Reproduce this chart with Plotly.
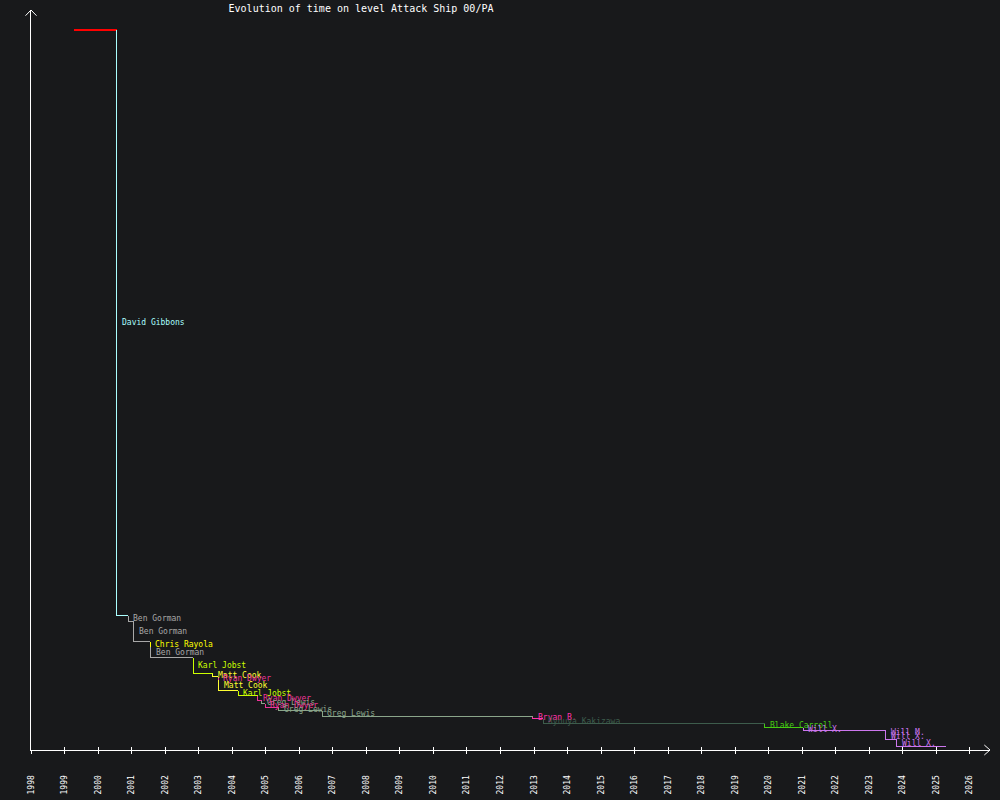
import plotly.graph_objects as go

# ---- data ----
record_dates = [
    "1999-04-16", "2000-07-25", "2000-11-24", "2001-01-22", "2001-07-23",
    "2001-07-27", "2002-11-05", "2003-06-01", "2003-08-05", "2003-08-08",
    "2004-03-10", "2004-10-05", "2004-11-20", "2004-12-26", "2005-05-20",
    "2006-09-10", "2012-12-19", "2013-04-14", "2019-11-22", "2021-01-13",
    "2023-06-29", "2023-07-02", "2023-10-27",
]
record_times = [
    720, 134, 128, 108, 103,
    92, 76, 73, 70, 59,
    54, 49, 46, 42, 39,
    33, 31, 26, 22, 19,
    16, 10, 3,
]
record_players = [
    "", "David Gibbons", "Ben Gorman", "Ben Gorman", "Chris Rayola",
    "Ben Gorman", "Karl Jobst", "Matt Cook", "Ryan Dwyer", "Matt Cook",
    "Karl Jobst", "Ryan Dwyer", "Greg Lewis", "Ryan Dwyer", "Greg Lewis",
    "Greg Lewis", "Bryan B.", "Ryouya Kakizawa", "Blake Carroll", "Will X.",
    "Will M.", "Will X.", "Will X.",
]
end_date = "2025-04-13"
year_ticks_start = "1998-01-01"
axis_end = "2026-08-08"
title_text = "Evolution of time on level Attack Ship 00/PA"

player_colors = {
    "": "#ff0000",
    "David Gibbons": "#aaffff",
    "Ben Gorman": "#a8a8a8",
    "Chris Rayola": "#ffff00",
    "Karl Jobst": "#ccff00",
    "Matt Cook": "#ffff33",
    "Ryan Dwyer": "#ee3399",
    "Greg Lewis": "#8aa58a",
    "Bryan B.": "#ff33aa",
    "Ryouya Kakizawa": "#3d5c4c",
    "Blake Carroll": "#44cc11",
    "Will X.": "#cc77ee",
    "Will M.": "#cc77ee",
}

BG = "#18191b"
FONT = "DejaVu Sans Mono"

fig = go.Figure()
annotations = []
n = len(record_dates)
for i in range(n):
    nxt = record_dates[i + 1] if i + 1 < n else end_date
    col = player_colors[record_players[i]]
    if i == 0:
        xs = [record_dates[i], nxt]
        ys = [record_times[i], record_times[i]]
        lw = 2
    else:
        xs = [record_dates[i], record_dates[i], nxt]
        ys = [record_times[i - 1], record_times[i], record_times[i]]
        lw = 1
        annotations.append(dict(
            x=record_dates[i], y=(record_times[i - 1] + record_times[i]) / 2,
            xref="x", yref="y", text=record_players[i], showarrow=False,
            xanchor="left", yanchor="middle", xshift=3,
            font=dict(family=FONT, size=8, color=col),
        ))
    fig.add_trace(go.Scatter(x=xs, y=ys, mode="lines",
                             line=dict(color=col, width=lw, shape="linear"),
                             hoverinfo="skip", showlegend=False))

# invisible helper trace so the overlay axis (inner tick halves) is drawn
fig.add_trace(go.Scatter(x=[record_dates[0]], y=[record_times[0]], mode="lines",
                         xaxis="x2", line=dict(width=0), hoverinfo="skip",
                         showlegend=False))

W, H = 1000, 800
ml, mr, mt, mb = 31, 10, 10, 50
pw, ph = W - ml - mr, H - mt - mb

def px(dx):
    return dx / pw

def py(dy):
    return dy / ph

shapes = [
    # y axis arrow head
    dict(type="line", xref="paper", yref="paper", x0=px(-5.5), y0=1 - py(5.7), x1=0, y1=1,
         line=dict(color="white", width=1)),
    dict(type="line", xref="paper", yref="paper", x0=px(5.5), y0=1 - py(5.7), x1=0, y1=1,
         line=dict(color="white", width=1)),
    # x axis arrow head
    dict(type="line", xref="paper", yref="paper", x0=1 - px(5.7), y0=py(5), x1=1, y1=0,
         line=dict(color="white", width=1)),
    dict(type="line", xref="paper", yref="paper", x0=1 - px(5.7), y0=py(-5), x1=1, y1=0,
         line=dict(color="white", width=1)),
]

fig.update_layout(
    width=W, height=H,
    margin=dict(l=ml, r=mr, t=mt, b=mb, pad=0, autoexpand=False),
    paper_bgcolor=BG, plot_bgcolor=BG,
    showlegend=False,
    title=dict(text=title_text, x=0.361, xanchor="center", xref="container",
               y=1 - 8 / H, yanchor="middle", yref="container",
               font=dict(family=FONT, size=10, color="white")),
    xaxis=dict(type="date", range=[year_ticks_start, axis_end], automargin=False,
               tick0=year_ticks_start, dtick="M12", tickformat="%Y",
               tickangle=-90, ticks="outside", ticklen=3, tickwidth=1,
               tickcolor="white", showline=True, linecolor="white", linewidth=1,
               showgrid=False, zeroline=False, ticklabelstandoff=18,
               tickfont=dict(family=FONT, size=8, color="white"),
               fixedrange=True),
    xaxis2=dict(type="date", overlaying="x", matches="x", anchor="y", side="bottom",
                automargin=False,
                tick0=year_ticks_start, dtick="M12", ticks="inside", ticklen=3,
                tickwidth=1, tickcolor="white", showticklabels=False,
                showline=False, showgrid=False, zeroline=False),
    yaxis=dict(range=[-0.5, 739.5], showticklabels=False, ticks="", showline=True,
               automargin=False,
               linecolor="white", linewidth=1, showgrid=False, zeroline=False,
               fixedrange=True),
    annotations=annotations,
    shapes=shapes,
)

post_js = """
document.body.style.margin='0px';
document.body.style.overflow='hidden';
function crispLines(){
  document.querySelectorAll('.scatterlayer path.js-line').forEach(function(p){
    p.style.shapeRendering='crispEdges';
  });
}
crispLines();
setTimeout(crispLines, 50);
setTimeout(crispLines, 300);
"""

fig.write_html(
    "out.html",
    config={"displayModeBar": False},
    post_script=post_js,
)
